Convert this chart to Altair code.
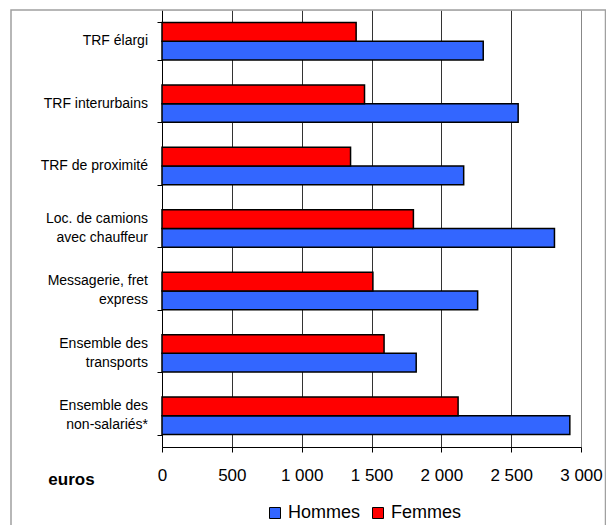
import altair as alt
import pandas as pd

NB = "\u00a0"
categories = [
    "TRF élargi",
    "TRF interurbains",
    "TRF de proximité",
    "Loc. de camions avec chauffeur",
    "Messagerie, fret express",
    "Ensemble des transports",
    "Ensemble des non-salariés*",
]
# label lines as printed on the axis (short second lines padded so they sit centred)
label_lines = [
    ["TRF élargi"],
    ["TRF interurbains"],
    ["TRF de proximité"],
    ["Loc. de camions", "avec chauffeur" + NB],
    ["Messagerie, fret", "express" + NB * 6],
    ["Ensemble des", "transports" + NB * 3],
    ["Ensemble des", "non-salariés*" + NB],
]
hommes = [2300, 2550, 2160, 2810, 2260, 1820, 2920]
femmes = [1390, 1450, 1350, 1800, 1510, 1590, 2120]
series = ["Hommes", "Femmes"]
colors = ["#3366FF", "#FF0000"]
x_ticks = [0, 500, 1000, 1500, 2000, 2500, 3000]

rows = []
for c, h, f in zip(categories, hommes, femmes):
    rows.append({"cat": c, "sexe": "Hommes", "val": h})
    rows.append({"cat": c, "sexe": "Femmes", "val": f})
df = pd.DataFrame(rows)

lab_rows = []
for c, lines in zip(categories, label_lines):
    if len(lines) == 1:
        lab_rows.append({"cat": c, "kind": "single", "txt": lines[0]})
    else:
        lab_rows.append({"cat": c, "kind": "top", "txt": lines[0]})
        lab_rows.append({"cat": c, "kind": "bottom", "txt": lines[1]})
lab_df = pd.DataFrame(lab_rows)

FONT = "Liberation Sans"

y_enc = alt.Y(
    "cat:N",
    sort=categories,
    scale=alt.Scale(paddingInner=0.4, paddingOuter=0.2),
    axis=alt.Axis(
        title=None,
        labels=False,
        tickBand="extent",
        tickSize=5,
        tickColor="black",
        domainColor="black",
        domainWidth=1,
        grid=False,
    ),
)

bars = alt.Chart(df).mark_bar(stroke="black", strokeWidth=1.5).encode(
    y=y_enc,
    yOffset=alt.YOffset(
        "sexe:N",
        sort=["Femmes", "Hommes"],
        scale=alt.Scale(paddingInner=0, paddingOuter=0),
    ),
    x=alt.X(
        "val:Q",
        scale=alt.Scale(domain=[0, 3000], nice=False),
        axis=alt.Axis(
            values=x_ticks,
            title="euros",
            labelExpr="replace(format(datum.value, ','), ',', ' ')",
            labelFont=FONT,
            labelFontSize=17,
            labelColor="black",
            labelPadding=15,
            labelFlush=False,
            tickSize=5,
            tickColor="black",
            domainColor="black",
            grid=True,
            gridColor={"condition": {"test": "datum.value === 3000", "value": "#888888"}, "value": "#333333"},
            gridWidth=1,
            titleFont=FONT,
            titleFontSize=17,
            titleFontWeight="bold",
            titleColor="black",
            titleX=-91,
            titleY=32,
            titleAlign="center",
            titleBaseline="middle",
        ),
    ),
    color=alt.Color(
        "sexe:N",
        scale=alt.Scale(domain=series, range=colors),
        legend=alt.Legend(
            title=None,
            orient="none",
            legendX=104,
            legendY=494,
            direction="horizontal",
            symbolType="square",
            symbolSize=121,
            symbolStrokeColor="black",
            symbolStrokeWidth=1,
            labelFont=FONT,
            labelFontSize=18,
            labelColor="black",
            labelOffset=4,
            columnPadding=8,
            padding=0,
        ),
    ),
)


def label_layer(kind, dy):
    return alt.Chart(lab_df).transform_filter(
        alt.datum.kind == kind
    ).mark_text(
        align="right", baseline="middle", font=FONT, fontSize=14, color="black", dy=dy
    ).encode(
        y=y_enc,
        x=alt.value(-14),
        text="txt:N",
    )


frame = alt.Chart(pd.DataFrame({"a": [0]})).mark_rect(
    fillOpacity=0, stroke="#a0a0a0", strokeWidth=1.5
).encode(
    x=alt.value(-151), x2=alt.value(443.5), y=alt.value(0), y2=alt.value(530)
)

chart = alt.layer(
    frame, bars, label_layer("single", 0), label_layer("top", -9.5), label_layer("bottom", 9.5)
).properties(
    width=419,
    height=437,
    padding={"left": 154, "top": 2, "right": 25, "bottom": 78},
    autosize=alt.AutoSizeParams(type="none"),
).configure_view(stroke="#888888", strokeWidth=1).configure(background="white")

chart.save("out.html", embed_options={"renderer": "svg", "actions": False})
